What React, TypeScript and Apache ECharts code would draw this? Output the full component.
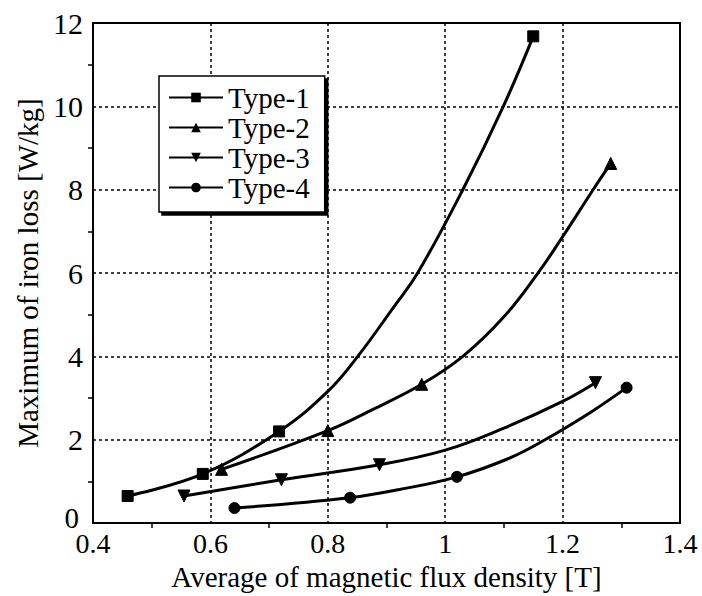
import React, { useEffect, useRef } from "react";
import * as echarts from "echarts";

// measured points (markers)
const type1Points = [[0.459, 0.65], [0.587, 1.18], [0.717, 2.2], [1.15, 11.68]];
const type2Points = [[0.619, 1.29], [0.8, 2.22], [0.96, 3.33], [1.282, 8.63]];
const type3Points = [[0.555, 0.65], [0.721, 1.04], [0.888, 1.4], [1.256, 3.37]];
const type4Points = [[0.641, 0.36], [0.838, 0.61], [1.02, 1.11], [1.309, 3.25]];

// points (no markers)
const type1Curve = [[0.8, 3.16], [0.851, 4.0], [0.911, 5.16], [0.953, 6.0], [1.03, 8.0], [1.099, 10.0]];
const type2Curve = [[0.877, 2.73], [1.03, 4.0], [1.1, 4.95], [1.158, 6.0], [1.2, 6.87], [1.252, 8.0]];
const type3Curve = [[1.0, 1.75], [1.1, 2.28], [1.2, 2.92]];
const type4Curve = [[0.92, 0.8], [1.108, 1.55], [1.17, 2.0], [1.25, 2.68]];

const seriesNames = ["Type-1", "Type-2", "Type-3", "Type-4"];
const xTicks = [0.4, 1.4, 0.2];
const yTicks = [0, 12, 2];

const FONT = "'Liberation Serif', 'Times New Roman', serif";

function buildData(points: number[][], curve: number[][]) {
  const all = [
    ...points.map((p) => ({ value: p, mark: true })),
    ...curve.map((p) => ({ value: p, mark: false })),
  ].sort((a, b) => a.value[0] - b.value[0]);
  return all.map((d) => (d.mark ? { value: d.value } : { value: d.value, symbol: "none" }));
}

export default function App() {
  const ref = useRef<HTMLDivElement>(null);
  useEffect(() => {
    if (!ref.current) return;
    const chart = echarts.init(ref.current, null, { renderer: "svg" });
    const symbols = [
      { symbol: "rect", size: 11 },
      { symbol: "triangle", size: 12 },
      { symbol: "path://M0,0 L10,0 L5,9 Z", size: 12 },
      { symbol: "circle", size: 11 },
    ];
    const datasets = [
      buildData(type1Points, type1Curve),
      buildData(type2Points, type2Curve),
      buildData(type3Points, type3Curve),
      buildData(type4Points, type4Curve),
    ];
    chart.setOption({
      animation: false,
      backgroundColor: "#fff",
      textStyle: { fontFamily: FONT, color: "#000" },
      grid: {
        left: 93,
        top: 23,
        width: 587,
        height: 504,
        show: true,
        borderColor: "#000",
        borderWidth: 2,
        backgroundColor: "transparent",
      },
      legend: {
        orient: "vertical",
        left: 159,
        top: 76,
        backgroundColor: "#fff",
        borderColor: "#000",
        borderWidth: 1.5,
        padding: [7, 15, 10, 9],
        shadowColor: "#000",
        shadowOffsetX: 3,
        shadowOffsetY: 3,
        shadowBlur: 0,
        itemWidth: 54,
        itemHeight: 12,
        itemGap: 1,
        textStyle: { fontFamily: FONT, fontSize: 29, color: "#000", lineHeight: 24 },
        data: seriesNames,
      },
      xAxis: {
        type: "value",
        min: xTicks[0],
        max: xTicks[1],
        interval: xTicks[2],
        name: "Average of magnetic flux density [T]",
        nameLocation: "middle",
        nameGap: 32,
        nameTextStyle: { fontFamily: FONT, fontSize: 29, color: "#000" },
        axisLine: { show: true, lineStyle: { color: "#000", width: 2 } },
        axisTick: { show: false },
        minorTick: { show: true, splitNumber: 2, length: 5, lineStyle: { color: "#000", width: 1.5 } },
        axisLabel: {
          fontFamily: FONT,
          fontSize: 28,
          lineHeight: 20,
          color: "#000",
          margin: 10,
          formatter: (v: number) => String(Math.round(v * 10) / 10),
        },
        splitLine: { show: true, lineStyle: { color: "#000", type: [3, 3], width: 1.5 } },
      },
      yAxis: {
        type: "value",
        min: yTicks[0],
        max: yTicks[1],
        interval: yTicks[2],
        name: "Maximum of iron loss [W/kg]",
        nameLocation: "middle",
        nameGap: 48,
        nameTextStyle: { fontFamily: FONT, fontSize: 29, color: "#000" },
        axisLine: { show: true, lineStyle: { color: "#000", width: 2 } },
        axisTick: { show: false },
        minorTick: { show: true, splitNumber: 2, length: 5, lineStyle: { color: "#000", width: 1.5 } },
        axisLabel: {
          fontFamily: FONT,
          fontSize: 30,
          lineHeight: 12,
          color: "#000",
          margin: 10,
          formatter: (v: number) => (v === 0 ? "{z|0}" : String(v)),
          rich: {
            z: { fontFamily: FONT, fontSize: 29, color: "#000", lineHeight: 12, padding: [0, 4, 10, 0] },
          },
        },
        splitLine: { show: true, lineStyle: { color: "#000", type: [3, 3], width: 1.5 } },
      },
      series: seriesNames.map((name, i) => ({
        name,
        type: "line",
        data: datasets[i],
        smooth: 0.4,
        symbol: symbols[i].symbol,
        symbolSize: symbols[i].size,
        showSymbol: true,
        showAllSymbol: true,
        lineStyle: { color: "#000", width: 3 },
        itemStyle: { color: "#000", borderColor: "#000" },
      })),
    });
    return () => chart.dispose();
  }, []);
  return <div ref={ref} style={{ position: "absolute", left: 0, top: 0, width: 702, height: 596 }} />;
}
